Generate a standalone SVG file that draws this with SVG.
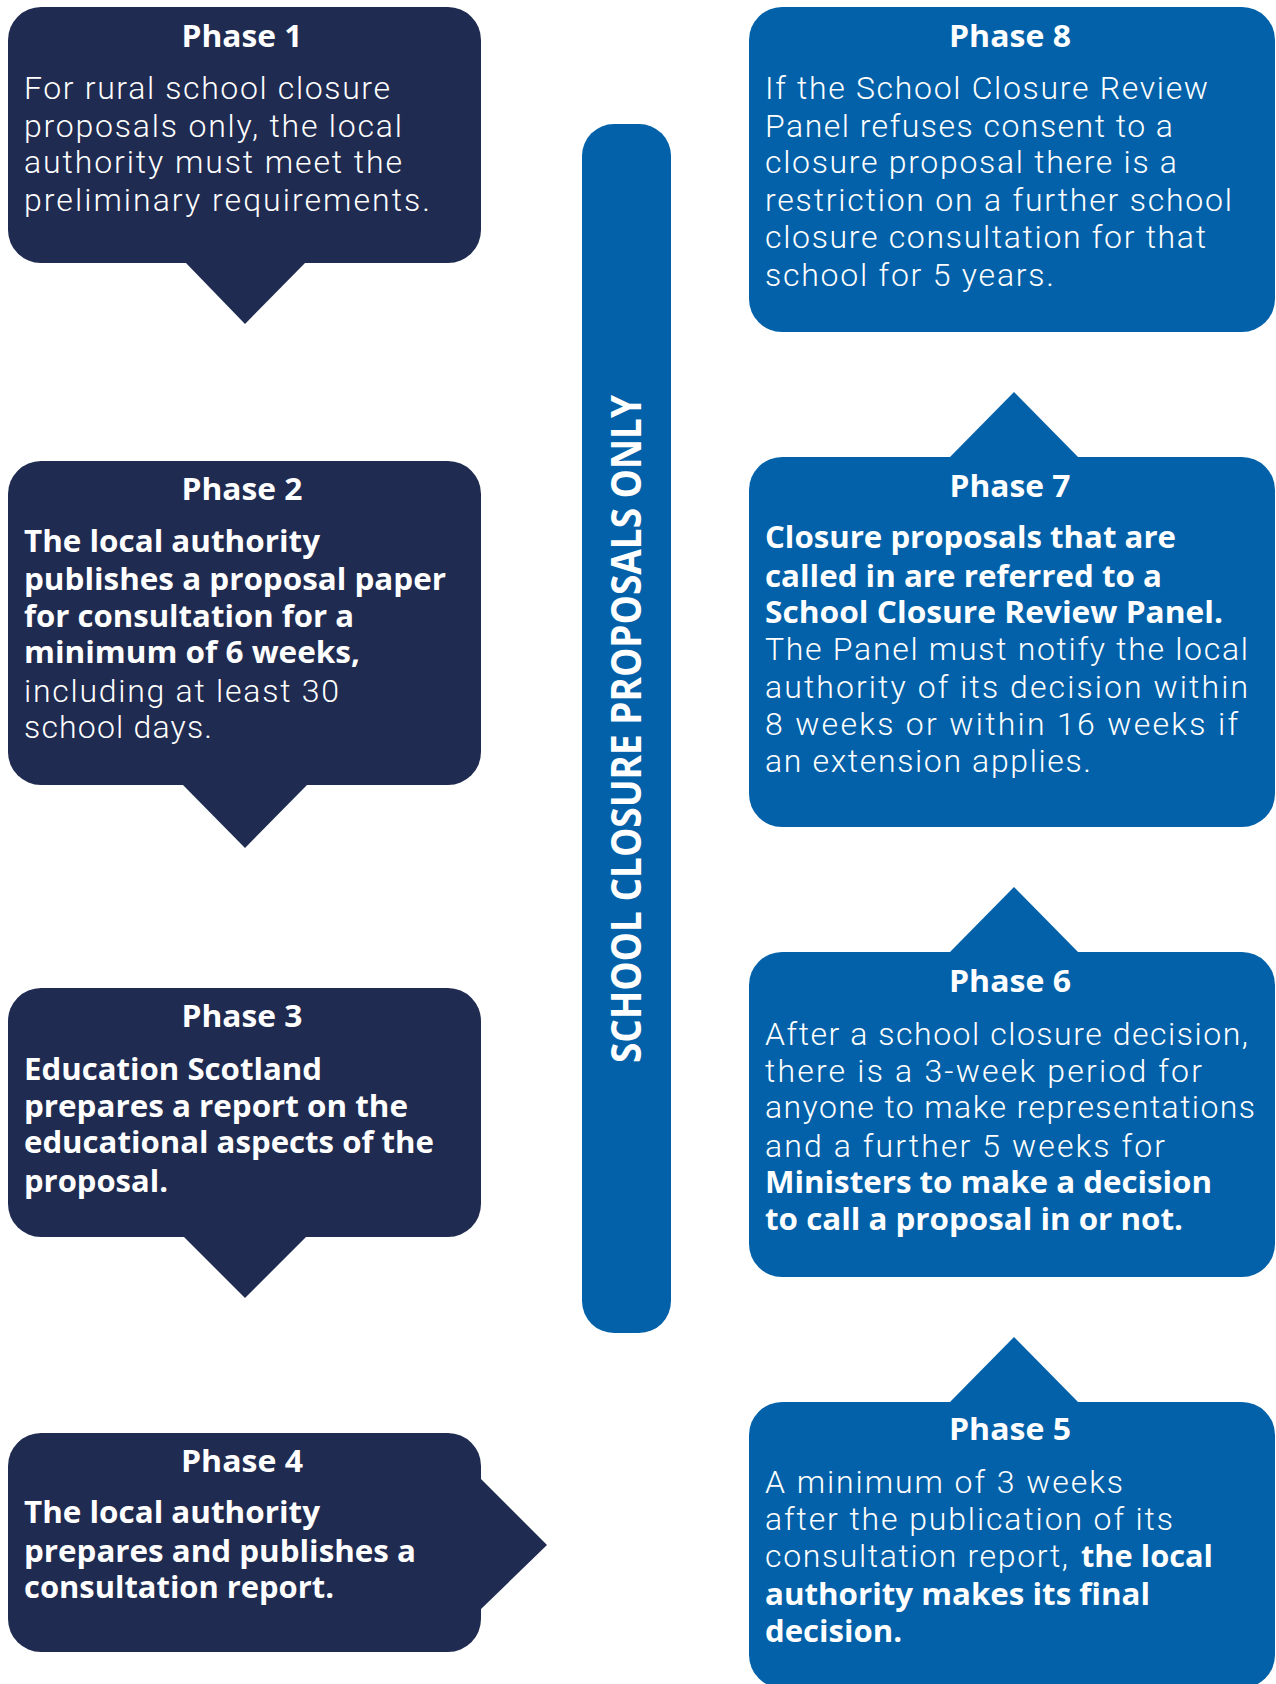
<svg xmlns="http://www.w3.org/2000/svg" width="1276" height="1684" viewBox="0 0 1276 1684">
<style>
.navy{fill:#1f2b50}
.blue{fill:#0261a9}
text{fill:#ffffff;font-family:Roboto,"Open Sans","Liberation Sans",sans-serif}
.t{font-size:30px;font-weight:700;text-anchor:middle;font-family:"Open Sans",Roboto,"Liberation Sans",sans-serif}
.l{font-size:32px;font-weight:300}
.b{font-size:30px;font-weight:700;font-family:"Open Sans",Roboto,"Liberation Sans",sans-serif}
.v{font-size:41px;font-weight:700;font-family:"Open Sans",Roboto,"Liberation Sans",sans-serif}
</style>
<rect width="1276" height="1684" fill="#ffffff"/>
<g id="connectors"></g>
<g id="bar">
<rect class="blue" x="582" y="124" width="89" height="1209" rx="32"/>
<text class="v" transform="translate(641,1063) rotate(-90)" textLength="668" lengthAdjust="spacingAndGlyphs">SCHOOL CLOSURE PROPOSALS ONLY</text>
</g>
<g id="phase1">
<rect class="navy" x="8" y="7" width="473" height="256" rx="33"/>
<polygon class="navy" points="185,262 306,262 245,324"/>
<text class="t" x="242" y="46.7" textLength="121" lengthAdjust="spacingAndGlyphs">Phase 1</text>
<text class="l" x="24" y="99" textLength="366" lengthAdjust="spacing">For rural school closure</text>
<text class="l" x="24" y="136.7" textLength="378" lengthAdjust="spacing">proposals only, the local</text>
<text class="l" x="24" y="173.3" textLength="378" lengthAdjust="spacing">authority must meet the</text>
<text class="l" x="24" y="210.7" textLength="406" lengthAdjust="spacing">preliminary requirements.</text>
</g>
<g id="phase2">
<rect class="navy" x="8" y="461" width="473" height="324" rx="33"/>
<polygon class="navy" points="182,784 308,784 245,848"/>
<text class="t" x="242" y="500" textLength="121" lengthAdjust="spacingAndGlyphs">Phase 2</text>
<text class="b" x="24" y="551.7" textLength="296" lengthAdjust="spacingAndGlyphs">The local authority</text>
<text class="b" x="24" y="590" textLength="422" lengthAdjust="spacingAndGlyphs">publishes a proposal paper</text>
<text class="b" x="24" y="626.7" textLength="330" lengthAdjust="spacingAndGlyphs">for consultation for a</text>
<text class="b" x="24" y="663.3" textLength="336" lengthAdjust="spacingAndGlyphs">minimum of 6 weeks,</text>
<text class="l" x="24" y="701.7" textLength="315" lengthAdjust="spacing">including at least 30</text>
<text class="l" x="24" y="738.3" textLength="188" lengthAdjust="spacing">school days.</text>
</g>
<g id="phase3">
<rect class="navy" x="8" y="988" width="473" height="249" rx="33"/>
<polygon class="navy" points="183,1236 307,1236 245,1298"/>
<text class="t" x="242" y="1026.7" textLength="121" lengthAdjust="spacingAndGlyphs">Phase 3</text>
<text class="b" x="24" y="1080" textLength="298" lengthAdjust="spacingAndGlyphs">Education Scotland</text>
<text class="b" x="24" y="1116.7" textLength="384" lengthAdjust="spacingAndGlyphs">prepares a report on the</text>
<text class="b" x="24" y="1153.3" textLength="410" lengthAdjust="spacingAndGlyphs">educational aspects of the</text>
<text class="b" x="24" y="1191.7" textLength="144" lengthAdjust="spacingAndGlyphs">proposal.</text>
</g>
<g id="phase4">
<rect class="navy" x="8" y="1433" width="473" height="219" rx="33"/>
<polygon class="navy" points="480,1478 480,1610 547,1545"/>
<text class="t" x="242" y="1471.7" textLength="122" lengthAdjust="spacingAndGlyphs">Phase 4</text>
<text class="b" x="24" y="1523.3" textLength="296" lengthAdjust="spacingAndGlyphs">The local authority</text>
<text class="b" x="24" y="1561.7" textLength="392" lengthAdjust="spacingAndGlyphs">prepares and publishes a</text>
<text class="b" x="24" y="1598.3" textLength="310" lengthAdjust="spacingAndGlyphs">consultation report.</text>
</g>
<g id="phase5">
<polygon class="blue" points="949,1403 1079,1403 1014,1337"/>
<rect class="blue" x="749" y="1402" width="526" height="286" rx="33"/>
<text class="t" x="1010" y="1440" textLength="122" lengthAdjust="spacingAndGlyphs">Phase 5</text>
<text class="l" x="765" y="1493.3" textLength="358" lengthAdjust="spacing">A minimum of 3 weeks</text>
<text class="l" x="765" y="1530" textLength="408" lengthAdjust="spacing">after the publication of its</text>
<text class="l" x="765" y="1566.7" textLength="303" lengthAdjust="spacing">consultation report,</text>
<text class="b" x="1081" y="1566.7" textLength="132" lengthAdjust="spacingAndGlyphs">the local</text>
<text class="b" x="765" y="1605" textLength="385" lengthAdjust="spacingAndGlyphs">authority makes its final</text>
<text class="b" x="765" y="1641.7" textLength="137" lengthAdjust="spacingAndGlyphs">decision.</text>
</g>
<g id="phase6">
<polygon class="blue" points="949,953 1079,953 1014,887"/>
<rect class="blue" x="749" y="952" width="526" height="325" rx="33"/>
<text class="t" x="1010" y="991.7" textLength="122" lengthAdjust="spacingAndGlyphs">Phase 6</text>
<text class="l" x="765" y="1045" textLength="483" lengthAdjust="spacing">After a school closure decision,</text>
<text class="l" x="765" y="1081.7" textLength="437" lengthAdjust="spacing">there is a 3-week period for</text>
<text class="l" x="765" y="1118.3" textLength="490" lengthAdjust="spacing">anyone to make representations</text>
<text class="l" x="765" y="1156.7" textLength="400" lengthAdjust="spacing">and a further 5 weeks for</text>
<text class="b" x="765" y="1193.3" textLength="447" lengthAdjust="spacingAndGlyphs">Ministers to make a decision</text>
<text class="b" x="765" y="1230" textLength="418" lengthAdjust="spacingAndGlyphs">to call a proposal in or not.</text>
</g>
<g id="phase7">
<polygon class="blue" points="949,458 1079,458 1014,392"/>
<rect class="blue" x="749" y="457" width="526" height="370" rx="33"/>
<text class="t" x="1010" y="496.7" textLength="121" lengthAdjust="spacingAndGlyphs">Phase 7</text>
<text class="b" x="765" y="548.3" textLength="411" lengthAdjust="spacingAndGlyphs">Closure proposals that are</text>
<text class="b" x="765" y="586.7" textLength="397" lengthAdjust="spacingAndGlyphs">called in are referred to a</text>
<text class="b" x="765" y="623.3" textLength="458" lengthAdjust="spacingAndGlyphs">School Closure Review Panel.</text>
<text class="l" x="765" y="660" textLength="483" lengthAdjust="spacing">The Panel must notify the local</text>
<text class="l" x="765" y="698.3" textLength="483" lengthAdjust="spacing">authority of its decision within</text>
<text class="l" x="765" y="735" textLength="473" lengthAdjust="spacing">8 weeks or within 16 weeks if</text>
<text class="l" x="765" y="771.7" textLength="326" lengthAdjust="spacing">an extension applies.</text>
</g>
<g id="phase8">
<rect class="blue" x="749" y="7" width="526" height="325" rx="33"/>
<text class="t" x="1010" y="46.7" textLength="122" lengthAdjust="spacingAndGlyphs">Phase 8</text>
<text class="l" x="765" y="99" textLength="443" lengthAdjust="spacing">If the School Closure Review</text>
<text class="l" x="765" y="136.7" textLength="408" lengthAdjust="spacing">Panel refuses consent to a</text>
<text class="l" x="765" y="173.3" textLength="412" lengthAdjust="spacing">closure proposal there is a</text>
<text class="l" x="765" y="210.7" textLength="467" lengthAdjust="spacing">restriction on a further school</text>
<text class="l" x="765" y="248.3" textLength="441" lengthAdjust="spacing">closure consultation for that</text>
<text class="l" x="765" y="285.7" textLength="289" lengthAdjust="spacing">school for 5 years.</text>
</g>
</svg>
